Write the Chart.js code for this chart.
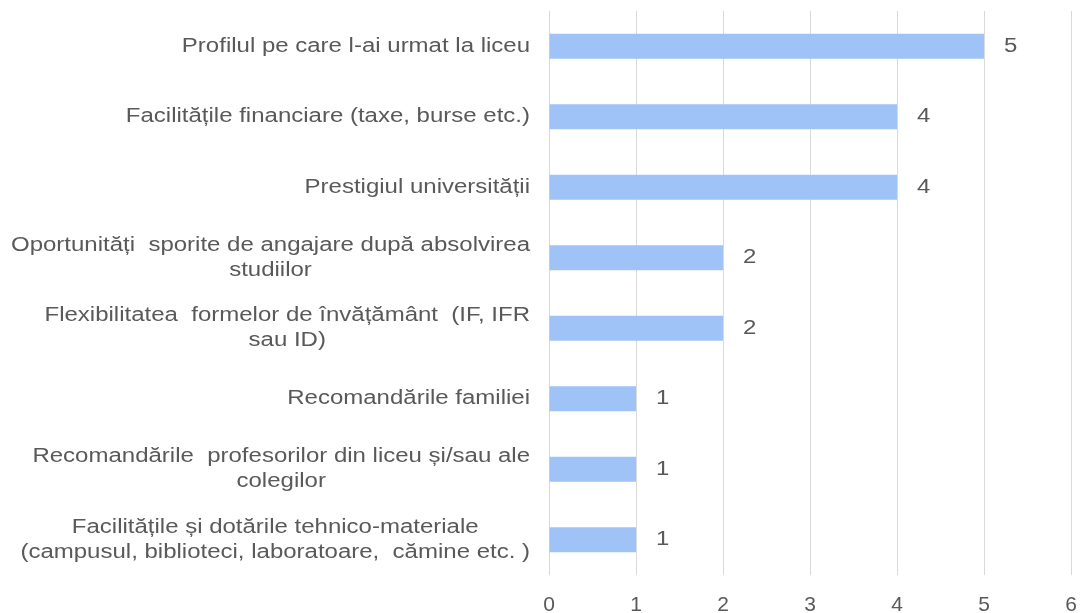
<!DOCTYPE html>
<html>
<head>
<meta charset="utf-8">
<script src="https://cdn.jsdelivr.net/npm/chart.js@4.4.1/dist/chart.umd.min.js"></script>
<style>
  html, body { margin: 0; padding: 0; background: #ffffff; }
  #wrap { width: 1080px; height: 613px; position: relative; }
</style>
</head>
<body>
<div id="wrap"><canvas id="chart"></canvas></div>
<script>
// Données
const categories = [
    ['Profilul pe care l-ai urmat la liceu'],
    ['Facilitățile financiare (taxe, burse etc.)'],
    ['Prestigiul universității'],
    ['Oportunități  sporite de angajare după absolvirea', 'studiilor'],
    ['Flexibilitatea  formelor de învățământ  (IF, IFR', 'sau ID)'],
    ['Recomandările familiei'],
    ['Recomandările  profesorilor din liceu și/sau ale', 'colegilor'],
    ['Facilitățile și dotările tehnico-materiale', '(campusul, biblioteci, laboratoare,  cămine etc. )']
];
const values = [5, 4, 4, 2, 2, 1, 1, 1];
const xTicks = [0, 1, 2, 3, 4, 5, 6];

const TEXT = '#595959';
const FONT_SIZE = 20;
const FONT = FONT_SIZE + 'px "Liberation Sans", Arial, sans-serif';
const SX = 1.2;       // texte légèrement étiré comme l'original
const LINE_H = 25;

function stretchedText(ctx, txt, x, y) {
    ctx.save();
    ctx.translate(x, y);
    ctx.scale(SX, 1);
    ctx.fillText(txt, 0, 0);
    ctx.restore();
}

// étiquettes de catégories (centrées par bloc, alignées à droite)
const categoryLabels = {
    id: 'categoryLabels',
    afterDraw(chart) {
        const ctx = chart.ctx;
        const yScale = chart.scales.y;
        const right = chart.chartArea.left - 19;
        ctx.save();
        ctx.font = FONT;
        ctx.fillStyle = TEXT;
        ctx.textAlign = 'center';
        ctx.textBaseline = 'middle';
        categories.forEach((lines, i) => {
            const cy = yScale.getPixelForValue(i);
            const w = Math.max(...lines.map(l => ctx.measureText(l).width)) * SX;
            const cx = right - w / 2;
            lines.forEach((l, j) => {
                stretchedText(ctx, l, cx, cy + (j - (lines.length - 1) / 2) * LINE_H);
            });
        });
        ctx.restore();
    }
};

// valeurs à droite des barres
const valueLabels = {
    id: 'valueLabels',
    afterDatasetsDraw(chart) {
        const ctx = chart.ctx;
        const meta = chart.getDatasetMeta(0);
        ctx.save();
        ctx.font = FONT;
        ctx.fillStyle = TEXT;
        ctx.textAlign = 'left';
        ctx.textBaseline = 'middle';
        meta.data.forEach((bar, i) => {
            stretchedText(ctx, String(values[i]), bar.x + 20, bar.y);
        });
        ctx.restore();
    }
};

const ctx = document.getElementById('chart').getContext('2d');
const myChart = new Chart(ctx, {
    type: 'bar',
    data: {
        labels: categories.map(c => c.join(' ')),
        datasets: [{
            data: values,
            backgroundColor: '#9fc3f7',
            borderWidth: 0,
            categoryPercentage: 1,
            barPercentage: 0.355
        }]
    },
    options: {
        indexAxis: 'y',
        responsive: true,
        maintainAspectRatio: false,
        animation: false,
        layout: { padding: { left: 549, right: 9, top: 11, bottom: 0 } },
        scales: {
            x: {
                min: xTicks[0],
                max: xTicks[xTicks.length - 1],
                afterFit: (scale) => {
                    scale.height = 38;
                    scale.paddingLeft = 0;
                    scale.paddingRight = 0;
                },
                ticks: { stepSize: 1, color: TEXT, padding: 18, font: { family: '"Liberation Sans", Arial, sans-serif', size: 21 } },
                grid: { color: '#d9d9d9', lineWidth: 1, drawTicks: false },
                border: { display: false }
            },
            y: {
                display: false
            }
        },
        plugins: {
            legend: { display: false },
            tooltip: { enabled: false }
        }
    },
    plugins: [categoryLabels, valueLabels]
});
</script>
</body>
</html>
